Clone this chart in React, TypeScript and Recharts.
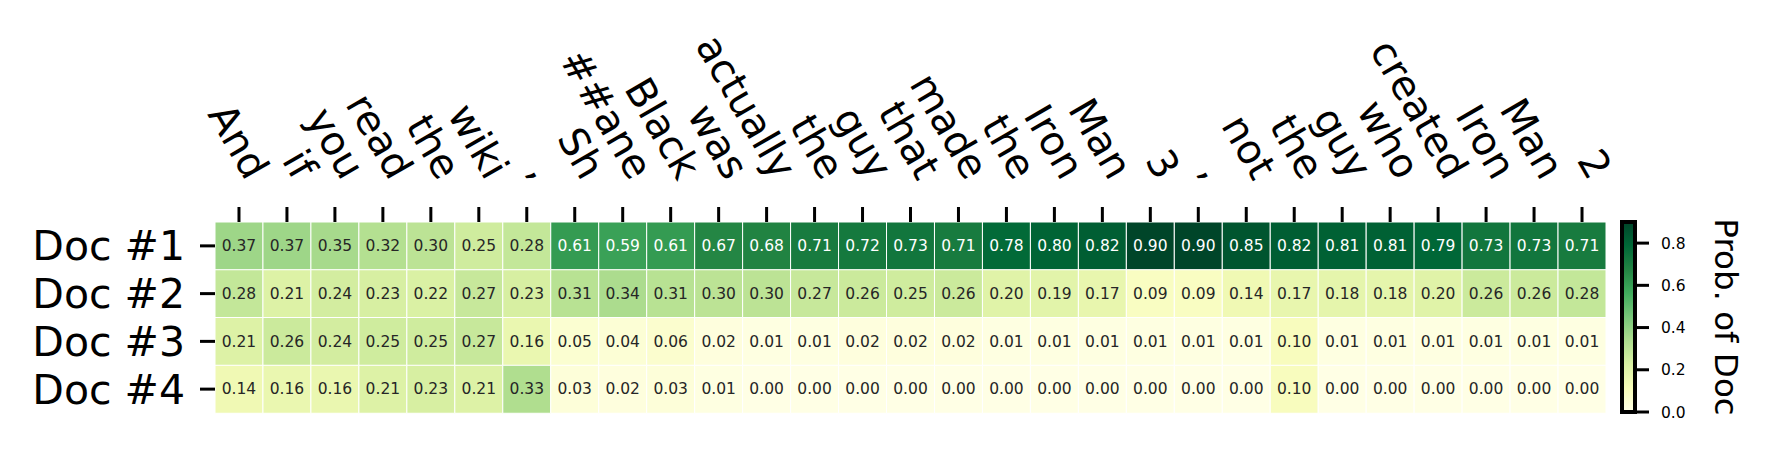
import { BarChart, Bar, XAxis, YAxis, Cell, LabelList, Label } from "recharts";

// ─── data ────────────────────────────────────────────────────────────────────

const tokens = [
  "And", "if", "you", "read", "the", "wiki", ",", "Sh", "##ane", "Black",
  "was", "actually", "the", "guy", "that", "made", "the", "Iron", "Man", "3",
  ",", "not", "the", "guy", "who", "created", "Iron", "Man", "2",
];

const docs = ["Doc #1", "Doc #2", "Doc #3", "Doc #4"];

const doc1 = [
  0.37, 0.37, 0.35, 0.32, 0.30, 0.25, 0.28, 0.61, 0.59, 0.61, 0.67, 0.68, 0.71, 0.72, 0.73,
  0.71, 0.78, 0.80, 0.82, 0.90, 0.90, 0.85, 0.82, 0.81, 0.81, 0.79, 0.73, 0.73, 0.71,
];
const doc2 = [
  0.28, 0.21, 0.24, 0.23, 0.22, 0.27, 0.23, 0.31, 0.34, 0.31, 0.30, 0.30, 0.27, 0.26, 0.25,
  0.26, 0.20, 0.19, 0.17, 0.09, 0.09, 0.14, 0.17, 0.18, 0.18, 0.20, 0.26, 0.26, 0.28,
];
const doc3 = [
  0.21, 0.26, 0.24, 0.25, 0.25, 0.27, 0.16, 0.05, 0.04, 0.06, 0.02, 0.01, 0.01, 0.02, 0.02,
  0.02, 0.01, 0.01, 0.01, 0.01, 0.01, 0.01, 0.10, 0.01, 0.01, 0.01, 0.01, 0.01, 0.01,
];
const doc4 = [
  0.14, 0.16, 0.16, 0.21, 0.23, 0.21, 0.33, 0.03, 0.02, 0.03, 0.01, 0.00, 0.00, 0.00, 0.00,
  0.00, 0.00, 0.00, 0.00, 0.00, 0.00, 0.00, 0.10, 0.00, 0.00, 0.00, 0.00, 0.00, 0.00,
];

const colorbarTicks = [0, 0.2, 0.4, 0.6, 0.8];
const VMAX = 0.9;

// ─── colour helpers (matplotlib YlGn) ────────────────────────────────────────

const YLGN = ["#ffffe5", "#f7fcb9", "#d9f0a3", "#addd8e", "#78c679", "#41ab5d", "#238443", "#006837", "#004529"];
const FONT = "'DejaVu Sans', sans-serif";

const hex = (h: string) => [1, 3, 5].map((i) => parseInt(h.slice(i, i + 2), 16));

function ylgnRgb(v: number) {
  const t = Math.min(1, Math.max(0, v / VMAX)) * (YLGN.length - 1);
  const i = Math.min(YLGN.length - 2, Math.floor(t));
  const f = t - i;
  const a = hex(YLGN[i]);
  const b = hex(YLGN[i + 1]);
  return a.map((c, k) => Math.round(c + (b[k] - c) * f));
}

const ylgn = (v: number) => {
  const [r, g, b] = ylgnRgb(v);
  return `rgb(${r},${g},${b})`;
};

// seaborn-style annotation colour
function textColor(v: number) {
  const lin = ylgnRgb(v).map((c) => {
    const s = c / 255;
    return s <= 0.03928 ? s / 12.92 : Math.pow((s + 0.055) / 1.055, 2.4);
  });
  const lum = 0.2126 * lin[0] + 0.7152 * lin[1] + 0.0722 * lin[2];
  return lum > 0.408 ? "#262626" : "#ffffff";
}

const values = [doc1, doc2, doc3, doc4];

const rows = docs.map((doc) => {
  const row: Record<string, any> = { doc };
  tokens.forEach((_, i) => {
    row[`c${i}`] = 1;
  });
  return row;
});

// ─── ticks ───────────────────────────────────────────────────────────────────

function TokenTick(props: any) {
  const { x, payload } = props;
  const idx = Math.round(payload.value - 0.5);
  return (
    <text
      transform={`translate(${x + 7},${182}) rotate(60)`}
      textAnchor="end"
      fontSize={40}
      fontFamily={FONT}
      fill="#000"
    >
      {tokens[idx]}
    </text>
  );
}

function cellLabel(col: number) {
  return (p: any) => {
    const v = values[p.index][col];
    return (
      <text
        x={p.x + p.width / 2}
        y={p.y + p.height / 2}
        textAnchor="middle"
        dominantBaseline="central"
        fontSize={15.5}
        fontFamily={FONT}
        fill={textColor(v)}
      >
        {v.toFixed(2)}
      </text>
    );
  };
}

export default function App() {
  return (
    <div style={{ position: "relative", width: 1770, height: 452, margin: -8, background: "#fff" }}>
      <div style={{ position: "absolute", left: 0, top: 0 }}>
        <BarChart
          width={1620}
          height={452}
          data={rows}
          layout="vertical"
          barCategoryGap={0}
          barGap={0}
          margin={{ top: 22, right: 14, bottom: 39, left: 0 }}
        >
          <XAxis
            type="number"
            orientation="top"
            domain={[0, tokens.length]}
            ticks={tokens.map((_, i) => i + 0.5)}
            interval={0}
            height={200}
            axisLine={false}
            tickSize={15}
            tickLine={{ stroke: "#000", strokeWidth: 3 }}
            tick={<TokenTick />}
          />
          <YAxis
            type="category"
            dataKey="doc"
            width={215}
            interval={0}
            axisLine={false}
            tickSize={15}
            tickMargin={15}
            tickLine={{ stroke: "#000", strokeWidth: 3 }}
            tick={{ fontSize: 41, fill: "#000", fontFamily: FONT }}
          />
          {tokens.map((_, i) => (
            <Bar key={i} dataKey={`c${i}`} stackId="s" isAnimationActive={false}>
              {values.map((vals, r) => (
                <Cell key={r} fill={ylgn(vals[i])} stroke="#ffffff" strokeWidth={1} />
              ))}
              <LabelList content={cellLabel(i)} />
            </Bar>
          ))}
        </BarChart>
      </div>

      <div style={{ position: "absolute", left: 1600, top: 0 }}>
        <BarChart
          width={170}
          height={452}
          data={[{ name: "cb", v: VMAX }]}
          barCategoryGap={0}
          margin={{ top: 222, right: 0, bottom: 40, left: 22 }}
        >
          <defs>
            <linearGradient id="cbGrad" x1="0" y1="1" x2="0" y2="0">
              {YLGN.map((c, i) => (
                <stop key={i} offset={i / (YLGN.length - 1)} stopColor={c} />
              ))}
            </linearGradient>
          </defs>
          <XAxis dataKey="name" type="category" hide />
          <YAxis
            orientation="right"
            type="number"
            domain={[0, VMAX]}
            ticks={colorbarTicks}
            width={135}
            axisLine={false}
            tickSize={14}
            tickMargin={12}
            tickLine={{ stroke: "#000", strokeWidth: 3 }}
            tickFormatter={(v: number) => v.toFixed(1)}
            tick={{ fontSize: 15.5, fill: "#000", fontFamily: FONT }}
          >
            <Label
              content={(p: any) => {
                const vb = p.viewBox;
                const cx = vb.x + 80;
                const cy = vb.y + vb.height / 2;
                return (
                  <text
                    transform={`translate(${cx},${cy}) rotate(90)`}
                    textAnchor="middle"
                    fontSize={32.5}
                    fontFamily={FONT}
                    fill="#000"
                  >
                    Prob. of Doc
                  </text>
                );
              }}
            />
          </YAxis>
          <Bar dataKey="v" fill="url(#cbGrad)" stroke="#000" strokeWidth={4} isAnimationActive={false} />
        </BarChart>
      </div>
    </div>
  );
}
